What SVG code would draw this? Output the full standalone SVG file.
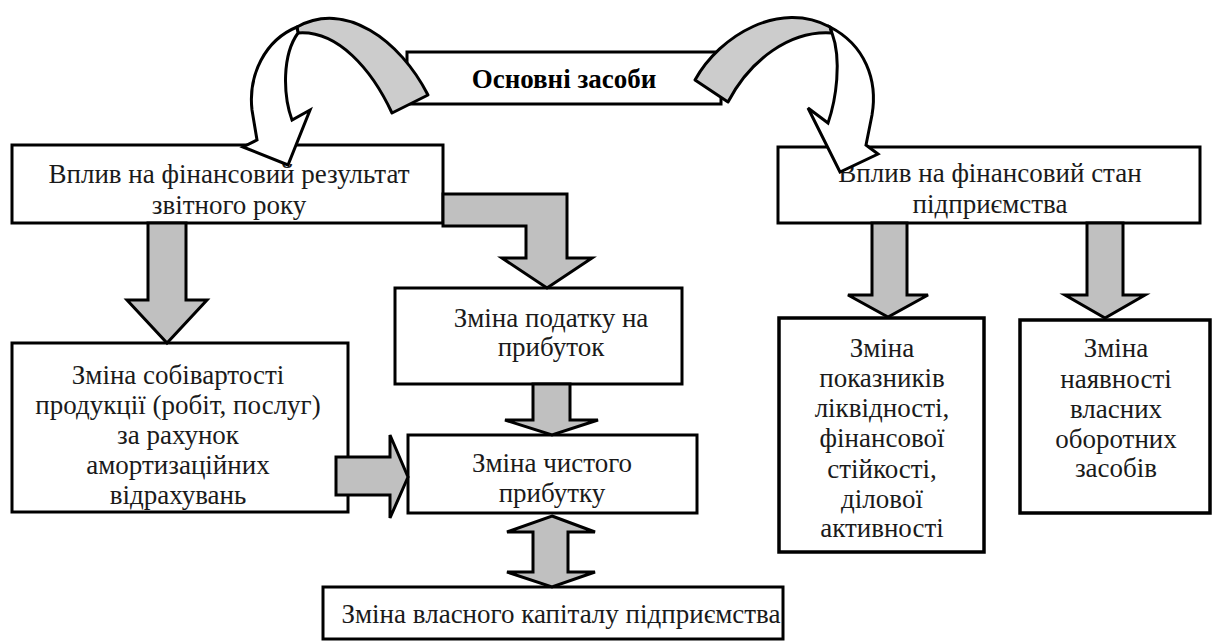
<svg xmlns="http://www.w3.org/2000/svg" width="1214" height="643" viewBox="0 0 1214 643">
<defs>
<style>
.box{fill:#ffffff;stroke:#000000;stroke-width:3}
.t{font-family:'Liberation Serif','Times New Roman',serif;font-size:27px;fill:#1a1a1a;text-anchor:middle}
.tb{font-family:'Liberation Serif','Times New Roman',serif;font-size:27px;font-weight:bold;fill:#000000;text-anchor:middle}
.blk{fill:#c0c0c0;stroke:#000000;stroke-width:3;stroke-linejoin:miter}
.cg{fill:#cccccc;stroke:#000000;stroke-width:3;stroke-linejoin:round}
.cw{fill:#ffffff;stroke:#000000;stroke-width:3;stroke-linejoin:miter}
</style>
</defs>
<rect width="1214" height="643" fill="#ffffff"/>
<g id="nodes">
<g id="n-osnovni">
<rect class="box" x="407" y="52" width="314" height="52"/>
<text class="tb" x="564" y="88">Основні засоби</text>
</g>
<g id="n-vplyv-rezultat">
<rect class="box" x="12" y="145" width="431" height="78"/>
<text class="t" x="229" y="183">Вплив на фінансовий результат</text>
<text class="t" x="229" y="214">звітного року</text>
</g>
<g id="n-vplyv-stan">
<rect class="box" x="778" y="147" width="422" height="76"/>
<text class="t" x="990" y="182">Вплив на фінансовий стан</text>
<text class="t" x="990" y="213">підприємства</text>
</g>
<g id="n-sobivartist">
<rect class="box" x="12" y="343" width="336" height="169"/>
<text class="t" x="178" y="384">Зміна собівартості</text>
<text class="t" x="178" y="414">продукції (робіт, послуг)</text>
<text class="t" x="178" y="444">за рахунок</text>
<text class="t" x="178" y="474">амортизаційних</text>
<text class="t" x="178" y="504">відрахувань</text>
</g>
<g id="n-podatok">
<rect class="box" x="395" y="288" width="287" height="96"/>
<text class="t" x="551" y="327">Зміна податку на</text>
<text class="t" x="551" y="356">прибуток</text>
</g>
<g id="n-chystyi">
<rect class="box" x="408" y="435" width="289" height="78"/>
<text class="t" x="552" y="472">Зміна чистого</text>
<text class="t" x="552" y="502">прибутку</text>
</g>
<g id="n-kapital">
<rect class="box" x="323" y="587" width="460" height="52"/>
<text class="t" x="561" y="623">Зміна власного капіталу підприємства</text>
</g>
<g id="n-pokaznyky">
<rect class="box" x="779" y="318" width="205" height="234" style="stroke-width:3.5"/>
<text class="t" x="882" y="357">Зміна</text>
<text class="t" x="882" y="387">показників</text>
<text class="t" x="882" y="417">ліквідності,</text>
<text class="t" x="882" y="447">фінансової</text>
<text class="t" x="882" y="478">стійкості,</text>
<text class="t" x="882" y="508">ділової</text>
<text class="t" x="882" y="537">активності</text>
</g>
<g id="n-oborotni">
<rect class="box" x="1020" y="320" width="190" height="193" style="stroke-width:3.5"/>
<text class="t" x="1116" y="357">Зміна</text>
<text class="t" x="1116" y="388">наявності</text>
<text class="t" x="1116" y="418">власних</text>
<text class="t" x="1116" y="448">оборотних</text>
<text class="t" x="1116" y="477">засобів</text>
</g>
</g>
<g id="connectors">
<path class="blk" d="M148,223 L186,223 L186,300 L207,300 L167,343 L127,300 L148,300 Z"/>
<path class="blk" d="M443,194 L567,194 L567,258 L592,258 L547,288 L502,258 L526,258 L526,226 L443,226 Z"/>
<path class="blk" d="M533,384 L570,384 L570,420 L598,420 L552,435 L505,420 L533,420 Z"/>
<path class="blk" d="M336,457 L390,457 L390,435 L408,477 L390,518 L390,495 L336,495 Z"/>
<path class="blk" d="M552,516 L595,532 L568,532 L568,572 L595,572 L552,587 L507,572 L533,572 L533,532 L507,532 Z"/>
<path class="blk" d="M872,223 L907,223 L907,295 L928,295 L888,317 L848,295 L872,295 Z"/>
<path class="blk" d="M1087,223 L1123,223 L1123,295 L1145,295 L1105,318 L1065,295 L1087,295 Z"/>
<path class="cg" d="M428,95 C400,40 345,0 297,27 L298,33 C338,30 372,70 392,113 Z"/>
<path class="cw" d="M297,27 C265,40 248,75 252,110 L257,140 L243,147 L288,165 L310,110 L292,120 C283,95 282,55 298,33 Z"/>
<path class="cg" d="M695,80 C720,35 780,0 830,27 L832,33 C790,30 750,60 728,102 Z"/>
<path class="cw" d="M830,27 C865,45 878,80 872,115 L866,145 L878,154 L840,172 L808,108 L828,123 C836,100 842,60 832,33 Z"/>
</g>
</svg>
